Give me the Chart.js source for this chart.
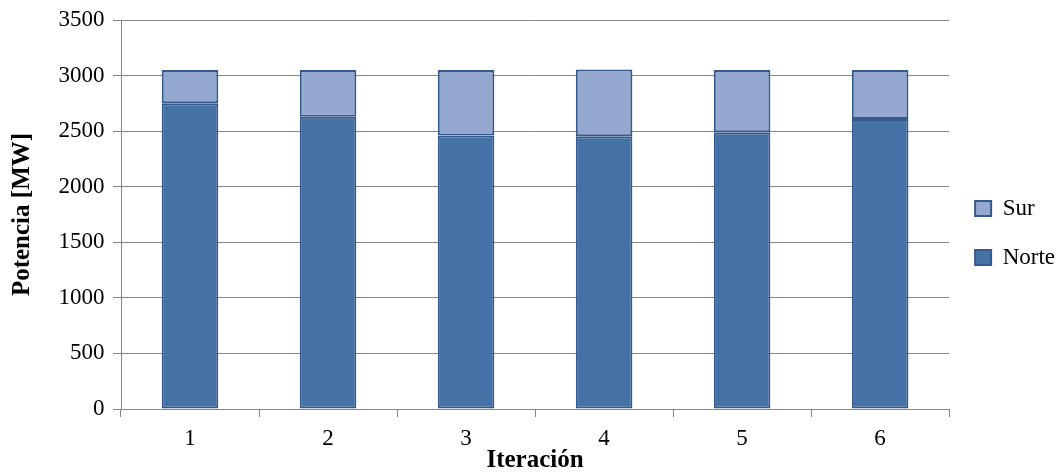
<!DOCTYPE html>
<html>
<head>
<meta charset="utf-8">
<script src="https://cdn.jsdelivr.net/npm/chart.js@4/dist/chart.umd.min.js"></script>
<style>
  html, body { margin: 0; padding: 0; background: #fff; }
  #wrap { width: 1060px; height: 473px; }
</style>
</head>
<body>
<div id="wrap"><canvas id="c" width="1060" height="473"></canvas></div>
<script>
// Iteration labels on the x axis
const iteraciones = ['1', '2', '3', '4', '5', '6'];
// Power per zone in MW for each iteration
const norte = [2750, 2630, 2460, 2455, 2490, 2610];
const sur = [300, 420, 590, 600, 560, 440];
// Y axis range and step
const yMin = 0;
const yMax = 3500;
const yStep = 500;

const serif = "'Liberation Serif', 'Times New Roman', serif";
const gridColor = '#868686';
const edgeColor = '#34598A';

new Chart(document.getElementById('c'), {
  type: 'bar',
  data: {
    labels: iteraciones,
    datasets: [
      {
        label: 'Norte',
        data: norte,
        backgroundColor: '#4472A7',
        borderColor: edgeColor,
        borderWidth: 2,
        borderSkipped: false
      },
      {
        label: 'Sur',
        data: sur,
        backgroundColor: '#95A9D0',
        borderColor: edgeColor,
        borderWidth: 2,
        borderSkipped: false
      }
    ]
  },
  options: {
    responsive: false,
    animation: false,
    layout: { padding: { top: 0, right: -5, bottom: 7, left: 2 } },
    datasets: { bar: { barPercentage: 0.41, categoryPercentage: 1 } },
    plugins: {
      tooltip: { enabled: false },
      legend: {
        position: 'right',
        reverse: true,
        labels: {
          boxWidth: 16,
          boxHeight: 15,
          padding: 26,
          color: '#000',
          font: { family: serif, size: 23 }
        }
      }
    },
    scales: {
      x: {
        stacked: true,
        grid: {
          drawOnChartArea: false,
          drawTicks: true,
          tickLength: 8,
          color: gridColor,
          offset: true
        },
        border: { color: gridColor, width: 1 },
        ticks: {
          color: '#000',
          padding: 10.5,
          font: { family: serif, size: 23, lineHeight: 1 }
        },
        title: {
          display: true,
          text: 'Iteración',
          color: '#000',
          padding: { top: -15, bottom: -10 },
          font: { family: serif, size: 25, weight: 'bold' }
        }
      },
      y: {
        stacked: true,
        min: yMin,
        max: yMax,
        grid: {
          color: gridColor,
          tickLength: 8,
          drawTicks: true
        },
        border: { color: gridColor, width: 1 },
        ticks: {
          stepSize: yStep,
          color: '#000',
          padding: 8.5,
          font: { family: serif, size: 23, lineHeight: 1 },
          callback: (v) => String(v)
        },
        title: {
          display: true,
          text: 'Potencia [MW]',
          color: '#000',
          padding: { top: 6, bottom: 12 },
          font: { family: serif, size: 25, weight: 'bold' }
        }
      }
    }
  }
});
</script>
</body>
</html>
